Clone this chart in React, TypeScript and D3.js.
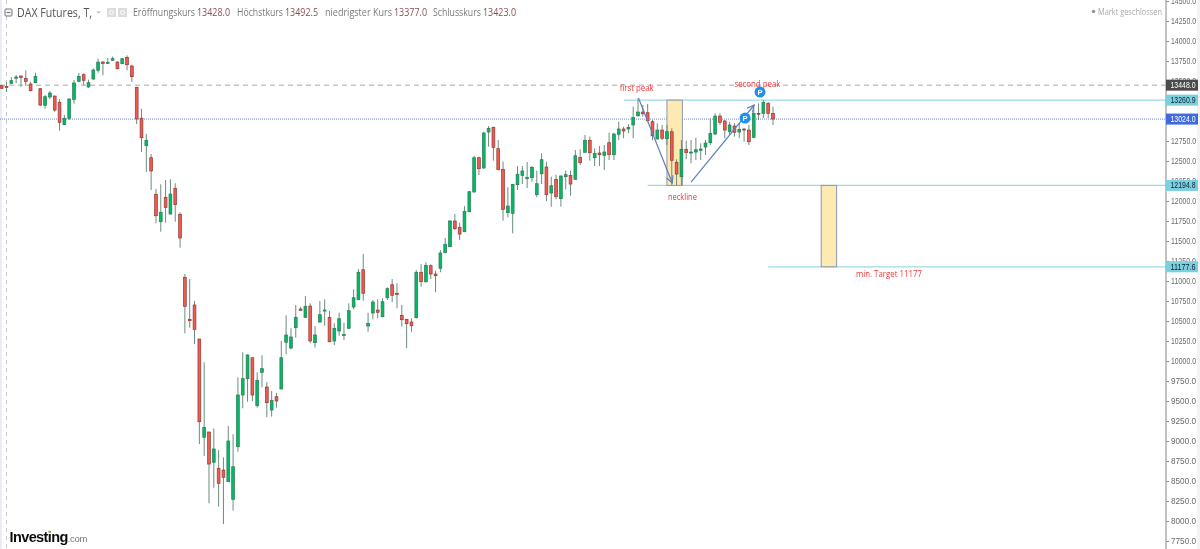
import { useEffect, useRef } from "react";
import * as d3 from "d3";

const W = 1200;
const H = 549;

// daily candles
const opens = [
  13441, 13431, 13471, 13534, 13562, 13534, 13462, 13479, 13404, 13196,
  13300, 13312, 13234, 12954, 13034, 13271, 13496, 13579, 13425, 13525,
  13634, 13737, 13721, 13759, 13737, 13716, 13796, 13687, 13421, 13034,
  12691, 12541, 12084, 11741, 12046, 11837, 12159, 11834, 11046, 10521,
  10700, 10275, 9046, 9112, 8734, 8659, 8637, 8491, 8271, 8929,
  9575, 9779, 10041, 9441, 9859, 9675, 9387, 9554, 9650, 10234,
  10162, 10416, 10650, 10546, 10687, 10229, 10487, 10631, 10546, 10250,
  10375, 10325, 10409, 10675, 10766, 11141, 10437, 10600, 10637, 10554,
  10791, 10954, 10846, 10571, 10521, 10487, 10541, 11109, 10991, 11191,
  11087, 11159, 11354, 11429, 11750, 11671, 11616, 11866, 12112, 12541,
  12412, 12862, 12921, 12654, 12396, 11854, 11846, 12204, 12321, 12279,
  12291, 12079, 12341, 12425, 12100, 12271, 12029, 12304, 12321, 12271,
  12546, 12609, 12759, 12541, 12600, 12571, 12729, 12579, 12834, 12900,
  12900, 12950, 13066, 13112, 13104, 12991, 12775, 12887, 12779, 12866,
  12484, 12304, 12646, 12604, 12612, 12634, 12675, 12729, 12837, 13062,
  13000, 12866, 12937, 12862, 12900, 12887, 12796, 13096, 13096, 13221,
  13096,
];
const closes = [
  13409, 13419, 13504, 13550, 13546, 13496, 13379, 13559, 13200, 13304,
  13350, 13137, 12984, 13034, 13275, 13475, 13559, 13509, 13479, 13637,
  13737, 13721, 13734, 13779, 13654, 13779, 13704, 13554, 13025, 12791,
  12759, 12375, 11816, 11859, 11921, 12087, 11954, 11537, 10684, 10504,
  10396, 9241, 9171, 8712, 8900, 8471, 8546, 9000, 8679, 9575,
  9779, 10075, 9575, 9759, 9904, 9479, 9509, 9500, 10041, 10325,
  10300, 10546, 10634, 10684, 10250, 10325, 10579, 10637, 10241, 10409,
  10529, 10331, 10629, 10791, 11109, 10846, 10471, 10737, 10609, 10741,
  10904, 10821, 10834, 10516, 10466, 10441, 11109, 10991, 11196, 11087,
  11066, 11350, 11459, 11750, 11654, 11587, 11871, 12116, 12541, 12404,
  12850, 12909, 12671, 12391, 11896, 11937, 12209, 12334, 12375, 12296,
  12421, 12216, 12516, 12079, 12191, 12054, 12312, 12329, 12212, 12566,
  12479, 12759, 12604, 12596, 12579, 12612, 12579, 12837, 12900, 12875,
  12921, 13046, 13112, 13091, 13004, 12816, 12887, 12784, 12866, 12509,
  12337, 12646, 12604, 12612, 12641, 12650, 12725, 12846, 13062, 12984,
  12887, 12950, 12859, 12896, 12887, 12741, 13096, 13084, 13234, 13096,
  13025,
];
const highs = [
  13450, 13487, 13550, 13575, 13569, 13634, 13491, 13604, 13412, 13325,
  13375, 13316, 13275, 13075, 13287, 13512, 13600, 13596, 13516, 13659,
  13779, 13750, 13787, 13804, 13746, 13787, 13821, 13704, 13429, 13154,
  12841, 12587, 12150, 12209, 12262, 12271, 12221, 11859, 11087, 11025,
  10750, 10275, 9984, 9116, 9159, 8887, 8796, 9187, 9084, 9796,
  10109, 10084, 10041, 9859, 10071, 9734, 9625, 9600, 10250, 10571,
  10409, 10700, 10679, 10812, 10721, 10437, 10750, 10771, 10625, 10471,
  10604, 10479, 10721, 10896, 11150, 11337, 10604, 10762, 10771, 10784,
  10921, 11025, 10971, 10700, 10525, 10534, 11137, 11212, 11234, 11209,
  11129, 11387, 11541, 11762, 11837, 11729, 11937, 12125, 12562, 12554,
  12866, 12937, 12929, 12762, 12491, 12171, 12212, 12437, 12437, 12487,
  12437, 12379, 12596, 12491, 12304, 12329, 12321, 12379, 12379, 12637,
  12646, 12825, 12804, 12659, 12687, 12700, 12854, 12854, 12991, 12929,
  12962, 13179, 13284, 13200, 13212, 13012, 12971, 12950, 12950, 12909,
  12521, 12762, 12754, 12762, 12791, 12721, 12762, 13034, 13096, 13096,
  13012, 12991, 12975, 12975, 12909, 12950, 13162, 13221, 13262, 13237,
  13179,
];
const lows = [
  13400, 13362, 13462, 13475, 13429, 13437, 13371, 13471, 13187, 13154,
  13275, 13116, 12879, 12950, 13012, 13216, 13487, 13450, 13416, 13516,
  13604, 13571, 13712, 13750, 13646, 13712, 13634, 13487, 12962, 12612,
  12362, 12137, 11721, 11616, 11729, 11834, 11741, 11416, 10346, 10416,
  10212, 8962, 8812, 8221, 8416, 8179, 7962, 8491, 8129, 8866,
  9409, 9491, 9500, 9416, 9671, 9296, 9304, 9416, 9650, 10084,
  10146, 10291, 10625, 10541, 10221, 10166, 10479, 10441, 10234, 10200,
  10316, 10262, 10400, 10646, 10762, 10754, 10366, 10521, 10534, 10546,
  10762, 10734, 10659, 10429, 10159, 10366, 10534, 10929, 10979, 11025,
  10859, 11109, 11346, 11429, 11637, 11512, 11616, 11859, 12109, 12325,
  12404, 12679, 12504, 12387, 11754, 11796, 11596, 12137, 12212, 12162,
  12241, 12046, 12212, 12000, 11929, 12021, 11929, 12146, 12066, 12266,
  12450, 12604, 12504, 12437, 12437, 12387, 12512, 12512, 12762, 12784,
  12850, 12784, 13054, 13054, 13004, 12762, 12771, 12762, 12700, 12200,
  12200, 12200, 12521, 12471, 12512, 12512, 12575, 12700, 12825, 12950,
  12784, 12825, 12804, 12784, 12741, 12700, 12784, 13012, 13037, 13034,
  12950,
];

const priceTicks = d3.range(14500, 7500, -250);

const lastQuote = 13024;
const prevLevel = 13448;
const peakLevel = 13260.9;
const necklineLevel = 12194.8;
const targetLevel = 11177.6;

// trend lines start at these candles, all run on to the axis
const peakLineFrom = 129.1;
const necklineFrom = 134;
const targetLineFrom = 159;
const patternBox = [138, 141.2];
const targetBox = [170, 173.2];
const downArrow = [[132.1, 13287], [139.1, 12225]];
const upArrow = [[143, 12237], [156.1, 13200]];
const markers = [[154.2, 13037], [157.3, 13362]];

const notes = [
  { text: "first peak", at: 128.2, price: 13375, width: 34 },
  { text: "second peak", at: 152, price: 13425, width: 46 },
  { text: "neckline", at: 138.2, price: 12012, width: 29 },
  { text: "min. Target 11177", at: 177.2, price: 11050, width: 66 },
];

const quoteFields = [
  { label: "Eröffnungskurs", value: "13428.0" },
  { label: "Höchstkurs", value: "13492.5" },
  { label: "niedrigster Kurs", value: "13377.0" },
  { label: "Schlusskurs", value: "13423.0" },
];
const quoteX = [133, 237, 325, 433];
const quoteWidth = [62, 46, 67, 48];
const valueX = [197, 285, 394, 483];

const axisX = 1166;
const UI_FONT = "'Open Sans', sans-serif";
const AXIS_FONT = "'Liberation Sans', Arial, sans-serif";

export default function App() {
  const svgRef = useRef<SVGSVGElement>(null);

  useEffect(() => {
    if (!svgRef.current) return;
    const svg = d3.select(svgRef.current);
    svg.selectAll("*").remove();

    const x = d3.scaleLinear().domain([0, 160]).range([1.7, 773]);
    const y = d3.scaleLinear().domain([14500, 7750]).range([1, 541]);

    const defs = svg.append("defs");
    defs
      .append("marker")
      .attr("id", "arrow-head")
      .attr("viewBox", "0 0 8 8")
      .attr("refX", 7)
      .attr("refY", 4)
      .attr("markerWidth", 8)
      .attr("markerHeight", 8)
      .attr("markerUnits", "userSpaceOnUse")
      .attr("orient", "auto")
      .append("path")
      .attr("d", "M0,0.5 L7,4 L0,7.5")
      .attr("fill", "none")
      .attr("stroke", "#5f80bd")
      .attr("stroke-width", 1.2);
    defs
      .append("filter")
      .attr("id", "soft")
      .attr("x", "-2%")
      .attr("y", "-2%")
      .attr("width", "104%")
      .attr("height", "104%")
      .append("feGaussianBlur")
      .attr("stdDeviation", 0.35);

    svg.append("rect").attr("width", W).attr("height", H).attr("fill", "#fff");
    svg.append("rect").attr("width", 2).attr("height", H).attr("fill", "#e8edf3");
    svg.append("rect").attr("x", 1197).attr("width", 3).attr("height", H).attr("fill", "#f3f3f3");

    const root = svg.append("g").attr("filter", "url(#soft)");

    // crosshair-style vertical
    root
      .append("line")
      .attr("x1", 6.5)
      .attr("x2", 6.5)
      .attr("y1", 0)
      .attr("y2", H)
      .attr("stroke", "#c4c4c4")
      .attr("stroke-dasharray", "4,4");

    // horizontal levels
    root
      .append("line")
      .attr("x1", 0)
      .attr("x2", axisX)
      .attr("y1", y(prevLevel))
      .attr("y2", y(prevLevel))
      .attr("stroke", "#a8a8a8")
      .attr("stroke-dasharray", "5,4");
    root
      .append("line")
      .attr("x1", 0)
      .attr("x2", axisX)
      .attr("y1", y(lastQuote))
      .attr("y2", y(lastQuote))
      .attr("stroke", "#6f86e0")
      .attr("stroke-dasharray", "1,1");

    const levelLines: [number, number][] = [
      [peakLevel, peakLineFrom],
      [necklineLevel, necklineFrom],
      [targetLevel, targetLineFrom],
    ];
    root
      .selectAll(".level")
      .data(levelLines)
      .enter()
      .append("line")
      .attr("class", "level")
      .attr("x1", (d) => x(d[1]))
      .attr("x2", axisX)
      .attr("y1", (d) => y(d[0]))
      .attr("y2", (d) => y(d[0]))
      .attr("stroke", "#9adbe6")
      .attr("stroke-width", 1.2);

    // pattern height and the same height projected down
    const boxes: [number[], number, number][] = [
      [patternBox, peakLevel, necklineLevel],
      [targetBox, necklineLevel, targetLevel],
    ];
    root
      .selectAll(".box")
      .data(boxes)
      .enter()
      .append("rect")
      .attr("class", "box")
      .attr("x", (d) => x(d[0][0]))
      .attr("width", (d) => x(d[0][1]) - x(d[0][0]))
      .attr("y", (d) => y(d[1]))
      .attr("height", (d) => y(d[2]) - y(d[1]))
      .attr("fill", "#fdeab3")
      .attr("stroke", "#8d97aa")
      .attr("stroke-width", 1);

    // candles
    const candles = d3.range(opens.length);
    const isUp = (i: number) => closes[i] >= opens[i];
    root
      .selectAll(".wick")
      .data(candles)
      .enter()
      .append("line")
      .attr("class", "wick")
      .attr("x1", (i) => x(i))
      .attr("x2", (i) => x(i))
      .attr("y1", (i) => y(highs[i]))
      .attr("y2", (i) => y(lows[i]))
      .attr("stroke", "#6d8c7d")
      .attr("stroke-width", 1);
    root
      .selectAll(".body")
      .data(candles)
      .enter()
      .append("rect")
      .attr("class", "body")
      .attr("x", (i) => x(i) - 1.4)
      .attr("width", 2.8)
      .attr("y", (i) => y(Math.max(opens[i], closes[i])))
      .attr("height", (i) => Math.max(1, Math.abs(y(opens[i]) - y(closes[i]))))
      .attr("fill", (i) => (isUp(i) ? "#00bb66" : "#f05a50"))
      .attr("stroke", (i) => (isUp(i) ? "#2c7a55" : "#8f3a36"))
      .attr("stroke-width", 0.7);

    // arrows
    const arrowLine = d3
      .line<number[]>()
      .x((d) => x(d[0]))
      .y((d) => y(d[1]));
    [downArrow, upArrow].forEach((pts) => {
      root
        .append("path")
        .attr("d", arrowLine(pts))
        .attr("fill", "none")
        .attr("stroke", "#5f80bd")
        .attr("stroke-width", 1.2)
        .attr("marker-end", "url(#arrow-head)");
    });

    // P markers
    markers.forEach(([at, price]) => {
      root
        .append("circle")
        .attr("cx", x(at))
        .attr("cy", y(price))
        .attr("r", 5.5)
        .attr("fill", "#1e92ee");
      root
        .append("text")
        .attr("x", x(at))
        .attr("y", y(price) + 2.6)
        .attr("text-anchor", "middle")
        .attr("font-family", AXIS_FONT)
        .attr("font-weight", "bold")
        .attr("font-size", 7.5)
        .attr("fill", "#fff")
        .text("P");
    });

    root
      .selectAll(".note")
      .data(notes)
      .enter()
      .append("text")
      .attr("class", "note")
      .attr("x", (d) => x(d.at))
      .attr("y", (d) => y(d.price))
      .attr("font-family", UI_FONT)
      .attr("font-size", 8.5)
      .attr("textLength", (d) => d.width)
      .attr("lengthAdjust", "spacingAndGlyphs")
      .attr("fill", "#f0383c")
      .text((d) => d.text);

    // price axis
    const axis = root
      .append("g")
      .attr("transform", `translate(${axisX},0)`)
      .call(
        d3
          .axisRight(y)
          .tickValues(priceTicks)
          .tickSize(3)
          .tickPadding(2)
          .tickFormat((d) => (d as number).toFixed(1)),
      );
    axis.select(".domain").remove();
    axis.selectAll("line").attr("stroke", "#8a8a8a");
    axis
      .selectAll("text")
      .attr("font-family", AXIS_FONT)
      .attr("font-size", 8.4)
      .attr("textLength", 25)
      .attr("lengthAdjust", "spacingAndGlyphs")
      .attr("fill", "#6a6a6a");
    root
      .append("line")
      .attr("x1", axisX)
      .attr("x2", axisX)
      .attr("y1", 0)
      .attr("y2", H)
      .attr("stroke", "#a2a2a2")
      .attr("stroke-width", 1.3);

    // price tags on the axis
    const tags: [number, string, string][] = [
      [prevLevel, "#4b4b4b", "#fff"],
      [peakLevel, "#7ccfdd", "#123"],
      [lastQuote, "#4169e1", "#fff"],
      [necklineLevel, "#7ccfdd", "#123"],
      [targetLevel, "#7ccfdd", "#123"],
    ];
    tags.forEach(([price, fill, ink]) => {
      root
        .append("rect")
        .attr("x", axisX)
        .attr("y", y(price) - 5.5)
        .attr("width", 32)
        .attr("height", 11)
        .attr("fill", fill);
      root
        .append("text")
        .attr("x", axisX + 4.5)
        .attr("y", y(price) + 3)
        .attr("font-family", AXIS_FONT)
        .attr("font-size", 8.4)
        .attr("textLength", 25)
        .attr("lengthAdjust", "spacingAndGlyphs")
        .attr("fill", ink)
        .text(price.toFixed(1));
    });

    // header
    root
      .append("rect")
      .attr("x", 5)
      .attr("y", 9)
      .attr("width", 7)
      .attr("height", 7)
      .attr("rx", 1)
      .attr("fill", "#f2f2f2")
      .attr("stroke", "#777");
    root
      .append("line")
      .attr("x1", 6.5)
      .attr("x2", 10.5)
      .attr("y1", 12.5)
      .attr("y2", 12.5)
      .attr("stroke", "#777");
    root
      .append("text")
      .attr("x", 17)
      .attr("y", 17)
      .attr("font-family", UI_FONT)
      .attr("font-size", 12.5)
      .attr("textLength", 75)
      .attr("lengthAdjust", "spacingAndGlyphs")
      .attr("fill", "#555")
      .text("DAX Futures, T,");
    root
      .append("path")
      .attr("d", "M96,11.5 L101,11.5 L98.5,13.5 Z")
      .attr("fill", "#bbb");
    [107, 118].forEach((bx) => {
      root
        .append("rect")
        .attr("x", bx)
        .attr("y", 8)
        .attr("width", 9)
        .attr("height", 9)
        .attr("fill", "#dcdcdc");
      root
        .append("circle")
        .attr("cx", bx + 4.5)
        .attr("cy", 12.5)
        .attr("r", 2)
        .attr("fill", "none")
        .attr("stroke", "#fff");
    });
    quoteFields.forEach((f, i) => {
      root
        .append("text")
        .attr("x", quoteX[i])
        .attr("y", 16)
        .attr("font-family", UI_FONT)
        .attr("font-size", 10.8)
        .attr("textLength", quoteWidth[i])
        .attr("lengthAdjust", "spacingAndGlyphs")
        .attr("fill", "#7a7a7a")
        .text(f.label);
      root
        .append("text")
        .attr("x", valueX[i])
        .attr("y", 16)
        .attr("font-family", UI_FONT)
        .attr("font-size", 10.8)
        .attr("textLength", 33)
        .attr("lengthAdjust", "spacingAndGlyphs")
        .attr("fill", "#8a4f4f")
        .text(f.value);
    });

    root
      .append("circle")
      .attr("cx", 1093.5)
      .attr("cy", 11.5)
      .attr("r", 1.8)
      .attr("fill", "#999");
    root
      .append("text")
      .attr("x", 1098)
      .attr("y", 14.5)
      .attr("font-family", UI_FONT)
      .attr("font-size", 8.2)
      .attr("textLength", 64)
      .attr("lengthAdjust", "spacingAndGlyphs")
      .attr("fill", "#aaa")
      .text("Markt geschlossen");

    // logo
    const logo = root
      .append("text")
      .attr("x", 9.5)
      .attr("y", 541.5)
      .attr("font-family", AXIS_FONT);
    logo
      .append("tspan")
      .attr("font-size", 14.5)
      .attr("font-weight", "bold")
      .attr("letter-spacing", -0.6)
      .attr("fill", "#111")
      .text("Investing");
    logo
      .append("tspan")
      .attr("font-size", 9.5)
      .attr("letter-spacing", -0.3)
      .attr("fill", "#777")
      .text(".com");
    root
      .append("circle")
      .attr("cx", 49.5)
      .attr("cy", 531.5)
      .attr("r", 1.1)
      .attr("fill", "#f7a11a");
  }, []);

  return (
    <svg
      ref={svgRef}
      width={W}
      height={H}
      viewBox={`0 0 ${W} ${H}`}
      style={{ position: "absolute", left: 0, top: 0, display: "block" }}
    />
  );
}
